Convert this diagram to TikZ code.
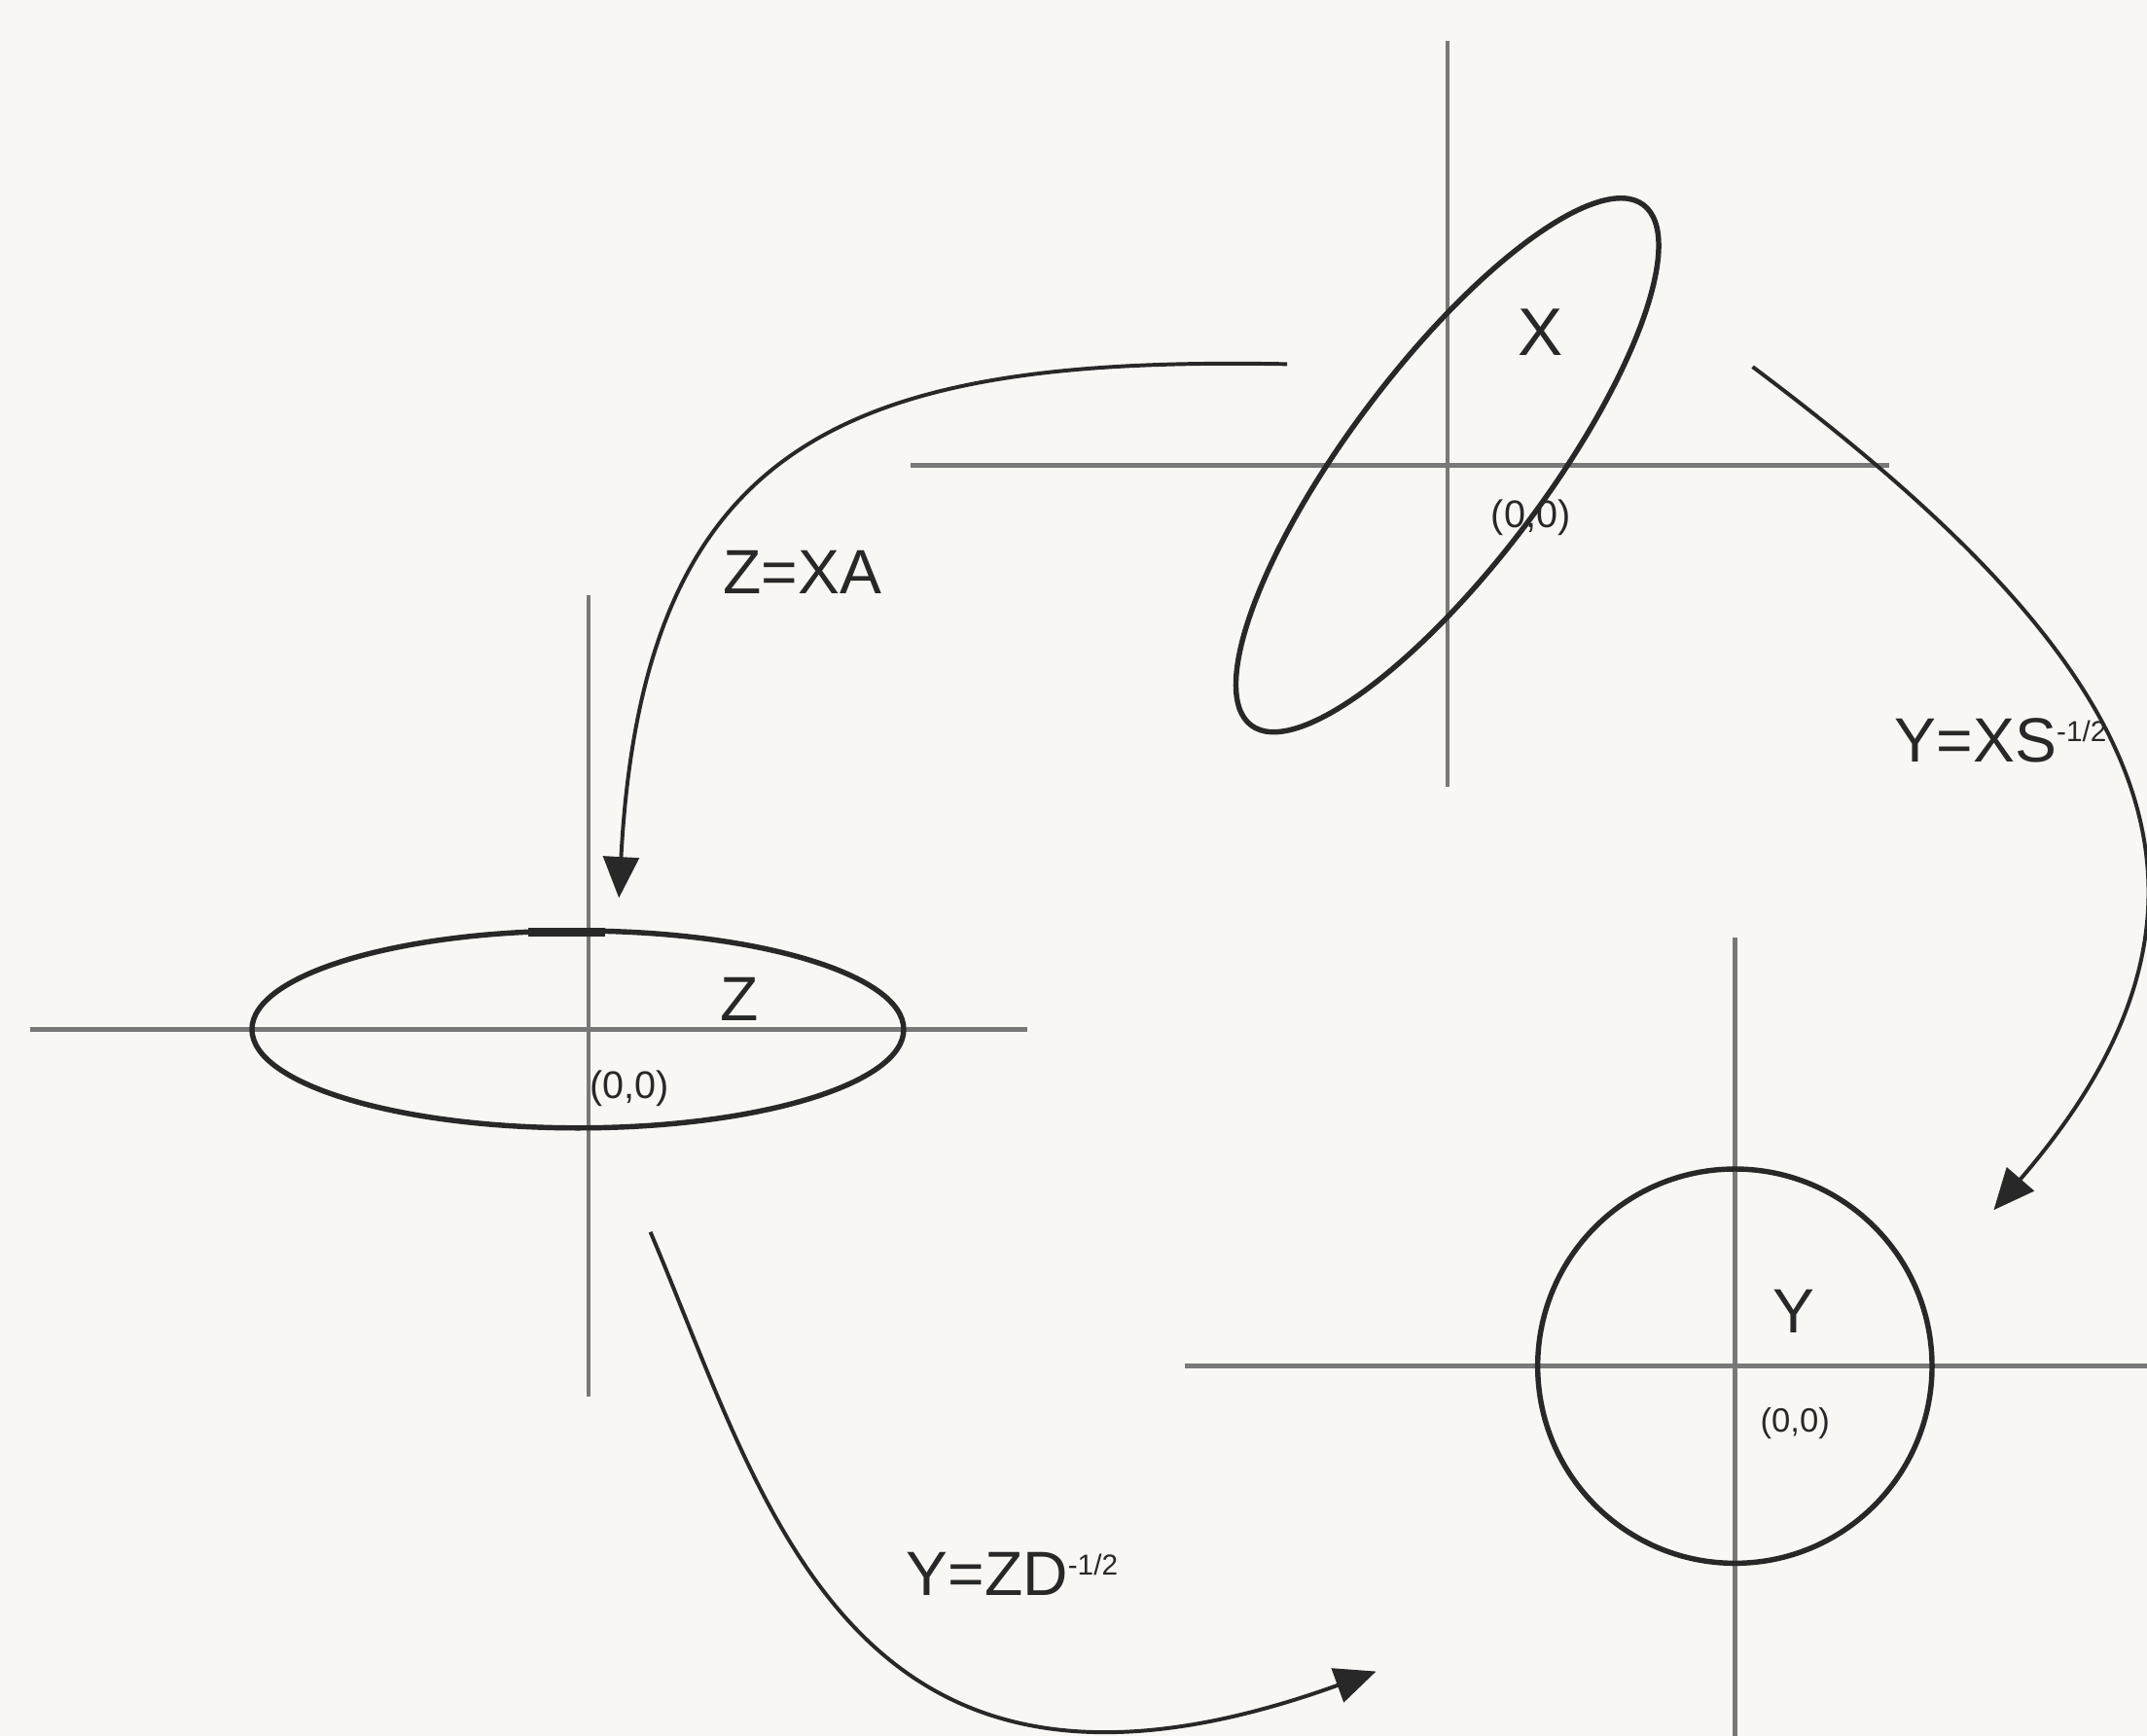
\documentclass[tikz,border=0pt]{standalone}
\usepackage{fontspec}
\setmainfont{Liberation Sans}
\usetikzlibrary{arrows.meta}

\definecolor{paper}{RGB}{249,247,244}
\definecolor{ink}{RGB}{40,40,40}
\definecolor{axisgray}{RGB}{120,120,120}

\newcommand{\expo}{\textsuperscript{\fontsize{6}{6}\selectfont -1/2}}

\begin{document}
\begin{tikzpicture}[
	axisln/.style={axisgray, line width=0.9pt},
	contour/.style={ink, line width=1.1pt},
	mapping/.style={ink, line width=0.8pt, -{Triangle[length=3mm, width=2.6mm]}},
	lbl/.style={ink, font=\fontsize{13}{15}\selectfont},
	origin/.style={ink, font=\fontsize{8}{9}\selectfont}
]
	\fill[paper] (0, 0) rectangle (15.68, 12.68);
	\useasboundingbox (0, 0) rectangle (15.68, 12.68);

	% X
	\coordinate (ox) at (10.57, 9.28);
	\draw[axisln] (10.57, 6.93) -- (10.57, 12.38);
	\draw[axisln] (6.65, 9.28) -- (13.80, 9.28);
	\draw[contour, rotate around={53:(ox)}] (ox) ellipse (2.38 and 0.72);
	\node[lbl, font=\fontsize{14}{16}\selectfont] (xlab) at (11.25, 10.25) {X};
	\node[origin] (xorig) at (11.18, 8.90) {(0,0)};

	% Z
	\coordinate (oz) at (4.22, 5.16);
	\draw[axisln] (4.30, 2.48) -- (4.30, 8.33);
	\draw[axisln] (0.22, 5.16) -- (7.50, 5.16);
	\draw[contour] (oz) ellipse (2.38 and 0.72);
	\draw[ink, line width=1.8pt] (3.86, 5.872) -- (4.42, 5.872);
	\node[lbl] (zlab) at (5.40, 5.38) {Z};
	\node[origin] (zorig) at (4.60, 4.73) {(0,0)};

	% Y
	\coordinate (oy) at (12.67, 2.70);
	\draw[axisln] (12.67, 0) -- (12.67, 5.83);
	\draw[axisln] (8.65, 2.70) -- (15.68, 2.70);
	\draw[contour] (oy) circle (1.44);
	\node[lbl] (ylab) at (13.10, 3.10) {Y};
	\node[origin, font=\fontsize{7}{8}\selectfont] (yorig) at (13.11, 2.28) {(0,0)};

	% mappings
	\coordinate (a1) at (9.40, 10.02);
	\coordinate (b1) at (4.52, 6.12);
	\coordinate (a2) at (12.80, 10.00);
	\coordinate (b2) at (14.56, 3.84);
	\coordinate (a3) at (4.75, 3.68);
	\coordinate (b3) at (10.05, 0.47);
	\draw[mapping] (a1) .. controls (6.20, 10.08) and (4.70, 9.48) .. (b1);
	\draw[mapping] (a2) .. controls (15.60, 7.90) and (16.60, 6.20) .. (b2);
	\draw[mapping] (a3) .. controls (5.60, 1.68) and (6.20, -0.92) .. (b3);
	\node[lbl] (za) at (5.86, 8.50) {Z=XA};
	\node[lbl] (xs) at (14.62, 7.27) {Y=XS\expo};
	\node[lbl] (zd) at (7.40, 1.18) {Y=ZD\expo};
\end{tikzpicture}
\end{document}
